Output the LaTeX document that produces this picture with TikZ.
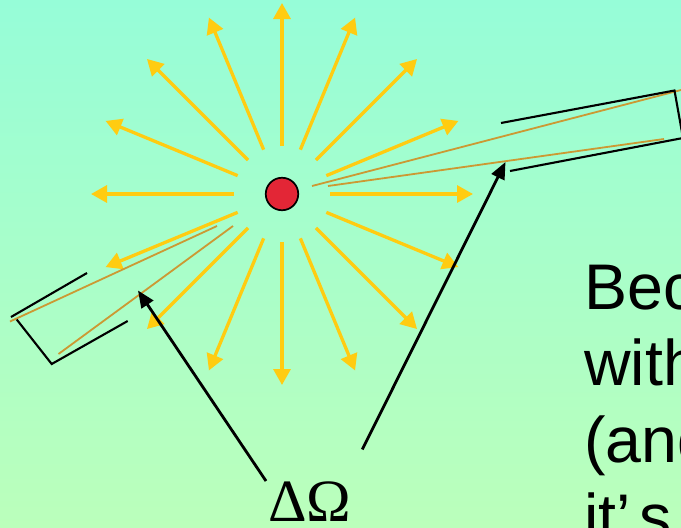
\documentclass[tikz,border=0pt]{standalone}
\usepackage{fontspec}
\setmainfont{Liberation Serif}
\newfontfamily\arialfont{Liberation Sans}
\usetikzlibrary{arrows.meta,calc}
\definecolor{bgtop}{RGB}{150,253,216}
\definecolor{bgbot}{RGB}{187,255,187}
\definecolor{raycol}{RGB}{255,204,17}
\definecolor{conecol}{RGB}{204,153,51}
\definecolor{srcred}{RGB}{227,38,54}
\begin{document}
\begin{tikzpicture}[x=1pt,y=-1pt,
  ray/.style={draw=raycol,line width=3.3pt,-{Triangle[length=16pt,width=17pt]}},
  coneline/.style={draw=conecol,line width=1.8pt},
  detector/.style={draw=black,line width=2.1pt},
  pointer/.style={draw=black,line width=2.8pt,-{Triangle[length=17pt,width=14pt]}},
  bodytext/.style={anchor=base west,inner sep=0pt,font=\arialfont\fontsize{64.5}{76}\selectfont}
]
\useasboundingbox (0,0) rectangle (681,528);
\clip (0,0) rectangle (681,528);
\shade[top color=bgtop,bottom color=bgbot] (0,0) rectangle (681,528);

% source
\node[circle,draw=black,line width=1.7pt,fill=srcred,minimum size=32.5pt,inner sep=0pt] (src) at (282,194) {};

% rays
\foreach \a in {0,22.5,...,337.5}
  \draw[ray] ($(src.center)+(\a:48)$) -- ($(src.center)+(\a:191)$);

% right cone and detector
\coordinate (r1a) at (312,186);
\coordinate (r1b) at (681,90);
\coordinate (r2a) at (328,186);
\coordinate (r2b) at (664,139);
\draw[coneline] (r1a) -- (r1b);
\draw[coneline] (r2a) -- (r2b);
\coordinate (rd1) at (501,123);
\coordinate (rd2) at (674.5,90.5);
\coordinate (rd3) at (683,138);
\coordinate (rd4) at (510,171);
\draw[detector] (rd1) -- (rd2) -- (rd3) -- (rd4);

% left cone and detector
\coordinate (l1a) at (217,226);
\coordinate (l1b) at (10,321.5);
\coordinate (l2a) at (233,226);
\coordinate (l2b) at (58.5,354);
\draw[coneline] (l1a) -- (l1b);
\draw[coneline] (l2a) -- (l2b);
\coordinate (ld1) at (11,317);
\coordinate (ld2) at (87,273);
\coordinate (ld3) at (16.7,319.5);
\coordinate (ld4) at (51.7,364);
\coordinate (ld5) at (127.7,321);
\draw[detector] (ld1) -- (ld2);
\draw[detector] (ld3) -- (ld4) -- (ld5);

% label and pointers
\node[inner sep=0pt,anchor=base,font=\fontsize{60}{60}\selectfont] (dO) at (310,521) {ΔΩ};
\coordinate (tailL) at (266,481);
\coordinate (tailR) at (362.3,449.5);
\coordinate (tipL) at (138,290.5);
\coordinate (tipR) at (505.5,162);
\draw[pointer] (tailL) -- (tipL);
\draw[pointer] (tailR) -- (tipR);

% text at the right edge
\node[bodytext] (t1) at (584,309) {Bec};
\node[bodytext] (t2) at (584,385) {with};
\node[bodytext] (t3) at (584,462) {(and};
\node[bodytext] (t4) at (584,539) {it’\kern9pt s};
\end{tikzpicture}
\end{document}
